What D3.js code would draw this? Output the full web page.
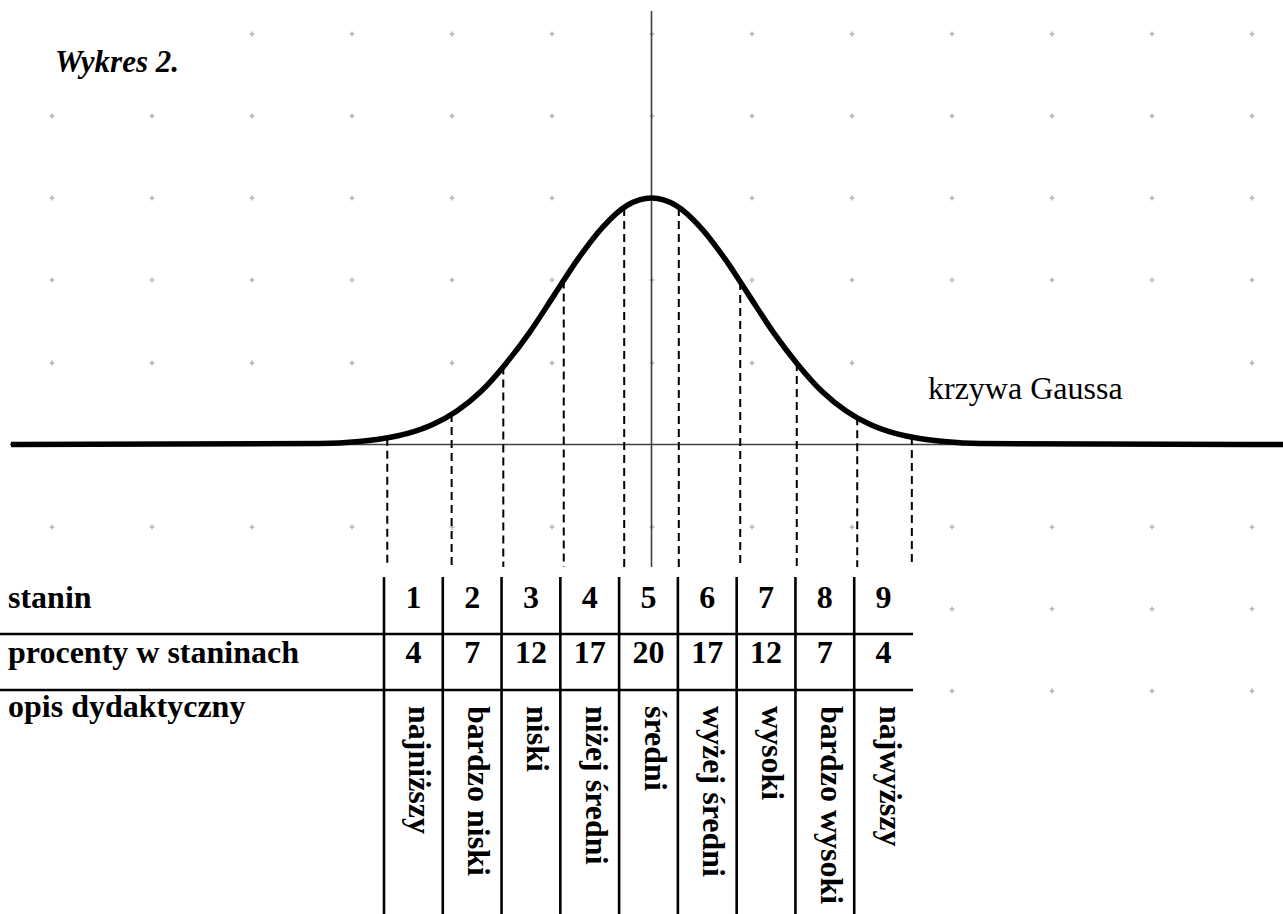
<!DOCTYPE html>
<html>
<head>
<meta charset="utf-8">
<script src="https://cdn.jsdelivr.net/npm/d3@7"></script>
<style>
  body { margin: 0; background: #fff; }
  text { font-family: "Liberation Serif", "Times New Roman", serif; fill: #000; }
</style>
</head>
<body>
<div id="chart"></div>
<script>
// table data
var stanines = [1, 2, 3, 4, 5, 6, 7, 8, 9];
var percents = [4, 7, 12, 17, 20, 17, 12, 7, 4];
var descriptions = ["najniższy", "bardzo niski", "niski", "niżej średni", "średni",
                    "wyżej średni", "wysoki", "bardzo wysoki", "najwyższy"];
var rowLabels = ["stanin", "procenty w staninach", "opis dydaktyczny"];

// curve: z (in sigma) and relative height (peak = 1)
var curveZ = [-6.57, -3.4, -3.0, -2.75, -2.5, -2.25, -2.0, -1.75, -1.5, -1.25, -1.0, -0.75, -0.5, -0.25, 0,
              0.25, 0.5, 0.75, 1.0, 1.25, 1.5, 1.75, 2.0, 2.25, 2.5, 2.75, 3.0, 3.37, 6.48];
var curveH = [0, 0.004, 0.012, 0.024, 0.045, 0.08, 0.135, 0.215, 0.325, 0.455, 0.605, 0.755, 0.882, 0.97, 1,
              0.97, 0.882, 0.755, 0.605, 0.455, 0.325, 0.215, 0.135, 0.08, 0.045, 0.024, 0.012, 0.004, 0];

// dashed drop lines (z position)
var dashZ = [-2.71, -2.05, -1.52, -0.9, -0.28, 0.28, 0.91, 1.49, 2.11, 2.67];

var width = 1283, height = 914;

var svg = d3.select("#chart")
  .append("svg")
    .attr("width", width)
    .attr("height", height);

svg.append("rect").attr("width", width).attr("height", height).attr("fill", "#fff");

// scales
var x = d3.scaleLinear().domain([-4, 4]).range([651.5 - 390, 651.5 + 390]);
var y = d3.scaleLinear().domain([0, 1]).range([444.5, 198]);
var col = d3.scaleBand().domain(stanines).range([384, 913]);

// page grid crosses (word-style drawing grid)
var gridX = d3.range(52, width, 100);
var gridY = [34, 116, 198, 280, 363, 527, 609, 691];
var dots = svg.append("g").attr("stroke", "#a8a8a8").attr("stroke-width", 1.2);
gridY.forEach(function(gy) {
  gridX.forEach(function(gx) {
    dots.append("line").attr("x1", gx - 2.5).attr("x2", gx + 2.5).attr("y1", gy).attr("y2", gy);
    dots.append("line").attr("x1", gx).attr("x2", gx).attr("y1", gy - 2.5).attr("y2", gy + 2.5);
  });
});

// white boxes behind text frames and table
svg.append("rect").attr("x", 40).attr("y", 18).attr("width", 160).attr("height", 75).attr("fill", "#fff");
svg.append("rect").attr("x", 915).attr("y", 352).attr("width", 285).attr("height", 60).attr("fill", "#fff");
svg.append("rect").attr("x", 0).attr("y", 572).attr("width", 913).attr("height", height - 572).attr("fill", "#fff");

// axes
svg.append("line")
  .attr("x1", 10).attr("x2", width)
  .attr("y1", y(0)).attr("y2", y(0))
  .attr("stroke", "#404040").attr("stroke-width", 1.6);
svg.append("line")
  .attr("x1", x(0)).attr("x2", x(0))
  .attr("y1", 11).attr("y2", 567)
  .attr("stroke", "#404040").attr("stroke-width", 1.6);

// linear interpolation of the curve height at z
function heightAt(z) {
  var i = d3.bisectLeft(curveZ, z);
  var z0 = curveZ[i - 1], z1 = curveZ[i];
  var t = (z - z0) / (z1 - z0);
  return curveH[i - 1] + t * (curveH[i] - curveH[i - 1]);
}

// dashed drop lines
svg.append("g")
  .selectAll("line")
  .data(dashZ)
  .enter().append("line")
    .attr("x1", function(d) { return x(d); })
    .attr("x2", function(d) { return x(d); })
    .attr("y1", function(d) { return y(heightAt(d)); })
    .attr("y2", 567)
    .attr("stroke", "#000")
    .attr("stroke-width", 2)
    .attr("stroke-dasharray", "8,5");

// gauss curve
var points = curveZ.map(function(z, i) { return [z, curveH[i]]; });
svg.append("path")
  .datum(points)
  .attr("fill", "none")
  .attr("stroke", "#000")
  .attr("stroke-width", 5.5)
  .attr("stroke-linejoin", "round")
  .attr("d", d3.line()
    .x(function(d) { return x(d[0]); })
    .y(function(d) { return y(d[1]); })
    .curve(d3.curveMonotoneX));

// titles
svg.append("text")
  .attr("x", 55).attr("y", 72)
  .style("font-size", "31px").style("font-weight", "bold").style("font-style", "italic")
  .text("Wykres 2.");
svg.append("text")
  .attr("x", 928).attr("y", 399)
  .style("font-size", "32px")
  .text("krzywa Gaussa");

// table grid
var table = svg.append("g").attr("stroke", "#000").attr("stroke-width", 2.6);
[634, 690].forEach(function(ry) {
  table.append("line").attr("x1", 0).attr("x2", 913).attr("y1", ry).attr("y2", ry);
});
table.selectAll(".col")
  .data(stanines)
  .enter().append("line")
    .attr("x1", function(d) { return col(d); })
    .attr("x2", function(d) { return col(d); })
    .attr("y1", 577).attr("y2", height);

// row headers
var rowBase = [608, 663, 717];
svg.selectAll(".rowlabel")
  .data(rowLabels)
  .enter().append("text")
    .attr("x", 8)
    .attr("y", function(d, i) { return rowBase[i]; })
    .style("font-size", "32px").style("font-weight", "bold")
    .text(function(d) { return d; });

// stanin numbers
svg.selectAll(".stanin")
  .data(stanines)
  .enter().append("text")
    .attr("x", function(d) { return col(d) + col.bandwidth() / 2; })
    .attr("y", rowBase[0])
    .attr("text-anchor", "middle")
    .style("font-size", "32px").style("font-weight", "bold")
    .text(function(d) { return d; });

// percentages
svg.selectAll(".pct")
  .data(percents)
  .enter().append("text")
    .attr("x", function(d, i) { return col(stanines[i]) + col.bandwidth() / 2; })
    .attr("y", rowBase[1])
    .attr("text-anchor", "middle")
    .style("font-size", "32px").style("font-weight", "bold")
    .text(function(d) { return d; });

// vertical descriptions
svg.selectAll(".desc")
  .data(descriptions)
  .enter().append("text")
    .attr("transform", function(d, i) {
      return "translate(" + (col(stanines[i]) + col.bandwidth() / 2 - 4) + ",706) rotate(90)";
    })
    .style("font-size", "32px").style("font-weight", "bold")
    .text(function(d) { return d; });
</script>
</body>
</html>
